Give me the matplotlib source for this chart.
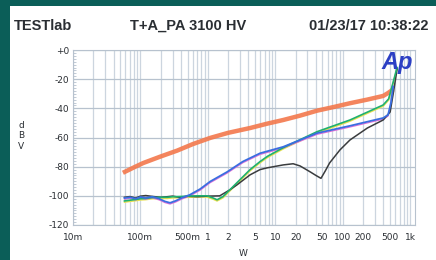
import matplotlib
matplotlib.use("Agg")
import matplotlib.pyplot as plt
import matplotlib.ticker as mticker
from matplotlib.patches import Rectangle
from matplotlib.transforms import offset_copy

# ── data (W, dBV) ──────────────────────────────────────────────────────
orange_w = [0.055, 0.08, 0.11, 0.2, 0.35, 0.6, 1.08, 2.0, 4.23, 7.6, 13.1, 23.3,
            41.7, 75, 128, 232, 398, 470, 560]
orange_db = [-84.2, -80.5, -77.5, -73, -69, -64.5, -60.3, -56.8, -53.5, -50.5, -48,
             -45, -41.6, -39, -36.5, -34, -31.5, -29.5, -27]

blue_w = [0.058, 0.07, 0.085, 0.1, 0.12, 0.15, 0.19, 0.23, 0.275, 0.33, 0.42,
          0.54, 0.77, 1.08, 1.93, 3.3, 5.95, 13.1, 41.7, 128, 398, 470, 520, 560]
blue_db = [-101.5, -101, -102, -100.8, -101.5, -100.6, -102, -103.8, -104.8, -103.5,
           -101.2, -99.3, -95.3, -90.2, -83.6, -76.5, -70.8, -66.4, -57, -52, -46.6,
           -44.5, -36, -25]

green_w = [0.058, 0.07, 0.085, 0.1, 0.12, 0.15, 0.2, 0.25, 0.3, 0.38, 0.5, 0.7,
           0.97, 1.2, 1.37, 1.68, 2.7, 4.23, 5.95, 7.6, 13.1, 23.3, 41.7, 128, 398,
           480, 560, 640]
green_db = [-103.5, -103, -102.5, -102, -101.8, -101.2, -101, -101, -100.6, -100.5,
            -100.2, -100, -100, -101.5, -102.7, -100.5, -91, -82, -76.5, -73, -67,
            -61.5, -56, -48, -37.7, -33.5, -22, -12]

black_w = [0.058, 0.07, 0.085, 0.1, 0.12, 0.15, 0.2, 0.25, 0.3, 0.38, 0.5, 0.7,
           1.0, 1.5, 2.1, 2.7, 4.23, 5.95, 7.6, 13.1, 18.4, 23.3, 33, 40, 47.6, 55,
           64, 91, 128, 232, 398, 505, 570, 641]
black_db = [-101, -100.5, -101.5, -100.2, -99.8, -100.4, -101, -100.6, -100.2, -101,
            -100.3, -100.6, -100.2, -100, -96, -92.5, -85.6, -82, -80.8, -78.8, -78,
            -79.5, -83.6, -86, -88, -83, -77.4, -68.5, -61.7, -53.5, -48, -42.5,
            -28, -13]

xtick_vals = [0.01, 0.1, 0.5, 1, 2, 5, 10, 20, 50, 100, 200, 500, 1000]
xtick_labels = ["10m", "100m", "500m", "1", "2", "5", "10", "20", "50", "100", "200", "500", "1k"]
ytick_vals = [0, -20, -40, -60, -80, -100, -120]
ytick_labels = ["+0", "-20", "-40", "-60", "-80", "-100", "-120"]

TEAL = "#0b5e58"
GRID = "#ccd5df"
TXT = "#2a2e33"

fig = plt.figure(figsize=(4.36, 2.60), dpi=100)
fig.patch.set_facecolor(TEAL)
# white panel inside the teal border
fig.patches.append(Rectangle((10 / 436, 0), 426 / 436, 254 / 260,
                             transform=fig.transFigure, facecolor="white",
                             edgecolor="none", zorder=-5))

hdr = dict(fontsize=10.5, color=TXT, fontweight="bold", family="Liberation Sans",
           va="center")
fig.text(14 / 436, 1 - 26 / 260, "TESTlab", ha="left", **hdr)
fig.text(188 / 436, 1 - 26 / 260, "T+A_PA 3100 HV", ha="center", **hdr)
fig.text(428 / 436, 1 - 26 / 260, "01/23/17 10:38:22", ha="right", **hdr)

ax = fig.add_axes([73 / 436, 35 / 260, 342 / 436, 175 / 260])
ax.set_facecolor("white")
ax.set_xscale("log")
ax.set_xlim(0.01, 1180)
ax.set_ylim(-120, 0)

# grid: every log minor vertically, 20 dB horizontally
ax.xaxis.set_major_locator(mticker.FixedLocator(xtick_vals))
ax.xaxis.set_major_formatter(mticker.FixedFormatter(xtick_labels))
ax.xaxis.set_minor_locator(mticker.LogLocator(base=10, subs=range(1, 10), numticks=50))
ax.xaxis.set_minor_formatter(mticker.NullFormatter())
ax.grid(which="both", axis="x", color=GRID, linewidth=0.9)
ax.set_yticks(ytick_vals)
ax.set_yticklabels(ytick_labels)
ax.yaxis.set_minor_locator(mticker.MultipleLocator(2))
ax.grid(which="major", axis="y", color="#b7c2ce", linewidth=0.9)
ax.tick_params(axis="x", which="both", length=0, pad=6, labelsize=6.5, labelcolor=TXT)
ax.tick_params(axis="y", which="major", length=0, pad=3, labelsize=6.5, labelcolor=TXT)
ax.tick_params(axis="y", which="minor", direction="in", length=2.5, color="#b7c2ce")
for s in ax.spines.values():
    s.set_color("#b7c2ce")
    s.set_linewidth(0.8)

# traces (yellow / pink sit just under green / blue)
ax.plot(orange_w, orange_db, color="#f3784c", linewidth=3.2, alpha=0.9,
        solid_capstyle="butt", zorder=3)
ax.plot(green_w, green_db, color="#e8e050", linewidth=1.1, zorder=3,
        transform=offset_copy(ax.transData, fig=fig, x=0, y=-1.2, units="dots"))
ax.plot(blue_w, blue_db, color="#e070d8", linewidth=0.9, zorder=3,
        transform=offset_copy(ax.transData, fig=fig, x=0, y=-1.2, units="dots"))
ax.plot(black_w, black_db, color="#3a3c3e", linewidth=1.1, zorder=4)
ax.plot(green_w, green_db, color="#1fb070", linewidth=1.2, zorder=5)
ax.plot(blue_w, blue_db, color="#3a6ee0", linewidth=1.3, zorder=5)

ax.text(397 / 436, 1 - 62 / 260, "Ap", transform=fig.transFigure, ha="center",
        va="center", fontsize=17, fontweight="bold", style="italic",
        color="#2c3fc4", family="Liberation Sans", zorder=10)

fig.text(21 / 436, 1 - 136 / 260, "d\nB\nV", ha="center", va="center",
         fontsize=6.5, color=TXT, linespacing=1.2)
fig.text(243 / 436, 1 - 254 / 260, "W", ha="center", va="center",
         fontsize=6.5, color=TXT)

fig.savefig("out.png", dpi=100, facecolor=TEAL)
